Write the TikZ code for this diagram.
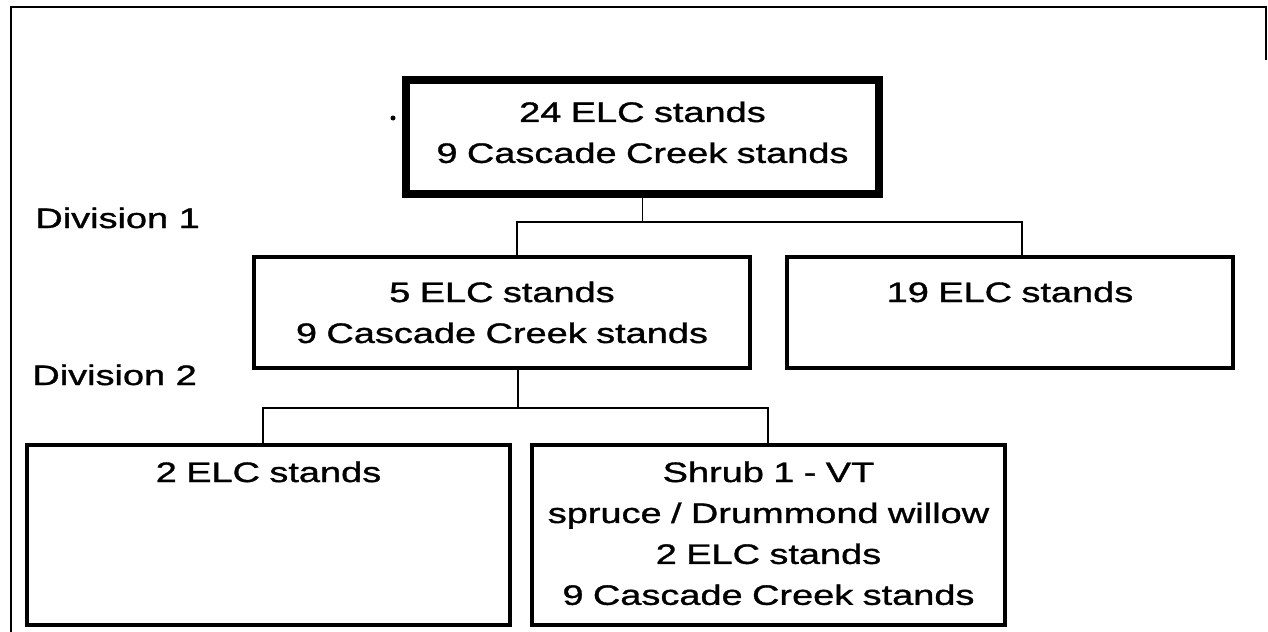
\documentclass[tikz,border=0pt]{standalone}
\usepackage{fontspec}
\setmainfont{Liberation Sans}[FakeStretch=1.35, FakeBold=1.2]
\usetikzlibrary{calc}
\tikzset{
	stand/.style={rectangle, draw=black, line width=2.3pt, anchor=north, inner sep=0pt, align=center, font=\fontsize{16pt}{23.3pt}\selectfont},
	rootstand/.style={stand, line width=4.5pt},
	upper/.style={text height=0.9cm, text depth=1.32cm},
	lower/.style={text height=0.74cm, text depth=2.86cm},
	division/.style={anchor=base west, inner sep=0pt, font=\fontsize{16pt}{19pt}\selectfont},
	link/.style={line width=1.1pt, draw=black},
	frame/.style={line width=0.85pt, draw=black},
	dotmark/.style={circle, fill=black, inner sep=0pt, minimum size=0.1cm},
}

\begin{document}
\begin{tikzpicture}[x=0.02cm, y=-0.02cm]
		\useasboundingbox (0,0) rectangle (1268,632);
		\draw[frame] (1266,60) -- (1266,7) -- (11,7) -- (11,632);
		\node[rootstand, text width=9.46cm, text height=0.84cm, text depth=1.44cm] (root) at (642.5,76) {24 ELC stands\\9 Cascade Creek stands};
		\node[dotmark] (stray) at (393,118) {};
		\node[stand, upper, text width=9.92cm] (midL) at (502,255) {5 ELC stands\\9 Cascade Creek stands};
		\node[stand, upper, text width=8.92cm] (midR) at (1010,255) {19 ELC stands};
		\node[stand, lower, text width=9.66cm] (botL) at (268.5,443) {2 ELC stands};
		\node[stand, lower, text width=9.46cm] (botR) at (768.5,443) {Shrub 1 - VT\\spruce / Drummond willow\\2 ELC stands\\9 Cascade Creek stands};
		\node[division] (div1) at (35,228) {Division 1};
		\node[division] (div2) at (32,385) {Division 2};
		\coordinate (bus1L) at (517,222);
		\coordinate (bus1R) at (1022,222);
		\coordinate (bus2) at (518,408);
		\coordinate (bus2L) at (263,408);
		\coordinate (bus2R) at (768,408);
		\draw[link] (root.south) -- (root.south |- bus1L);
		\draw[link] (midL.north -| bus1L) -- (bus1L) -- (bus1R) -- (bus1R |- midR.north);
		\draw[link] (midL.south -| bus2) -- (bus2);
		\draw[link] (botL.north -| bus2L) -- (bus2L) -- (bus2R) -- (bus2R |- botR.north);
	\end{tikzpicture}
\end{document}
